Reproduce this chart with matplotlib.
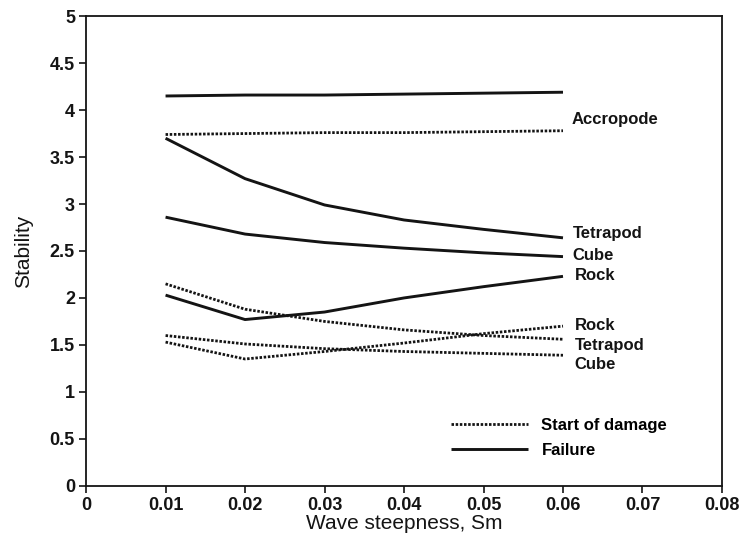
"""Stability vs wave steepness for armour units: start of damage and failure."""
import matplotlib
matplotlib.use("Agg")
import matplotlib.pyplot as plt
from matplotlib.lines import Line2D

plt.rcParams["font.family"] = ["Liberation Sans", "DejaVu Sans"]

steepness = [0.01, 0.02, 0.03, 0.04, 0.05, 0.06]

# failure (solid)
accropode_fail = [4.15, 4.16, 4.16, 4.17, 4.18, 4.19]
tetrapod_fail = [3.70, 3.27, 2.99, 2.83, 2.73, 2.64]
cube_fail = [2.86, 2.68, 2.59, 2.53, 2.48, 2.44]
rock_fail = [2.03, 1.77, 1.85, 2.00, 2.12, 2.23]

# start of damage (dotted)
accropode_start = [3.74, 3.75, 3.76, 3.76, 3.77, 3.78]
tetrapod_start = [2.15, 1.88, 1.75, 1.66, 1.60, 1.56]
cube_start = [1.60, 1.51, 1.46, 1.43, 1.41, 1.39]
rock_start = [1.53, 1.35, 1.43, 1.52, 1.62, 1.70]

end_labels = [
    ("Accropode", 0.0611, 3.90),
    ("Tetrapod", 0.0612, 2.69),
    ("Cube", 0.0612, 2.45),
    ("Rock", 0.0615, 2.24),
    ("Rock", 0.0615, 1.71),
    ("Tetrapod", 0.0615, 1.49),
    ("Cube", 0.0614, 1.29),
]

ink = "#141414"
solid_kw = dict(color=ink, linewidth=2.1, linestyle="-", solid_capstyle="butt")
dot_kw = dict(color=ink, linewidth=2.0, linestyle=(0, (0.9, 0.6)))

fig = plt.figure(figsize=(7.42, 5.38), dpi=100)
ax = fig.add_axes([0.116, 0.097, 0.857, 0.873])

for ys in (accropode_fail, tetrapod_fail, cube_fail, rock_fail):
    ax.plot(steepness, ys, **solid_kw)
for ys in (accropode_start, tetrapod_start, cube_start, rock_start):
    ax.plot(steepness, ys, **dot_kw)

for text, x, y in end_labels:
    ax.text(x, y, text, fontsize=12, fontweight="bold", color=ink,
            va="center", ha="left")

handles = [Line2D([], [], **dot_kw), Line2D([], [], **solid_kw)]
ax.legend(handles, ["Start of damage", "Failure"], loc="lower left",
          bbox_to_anchor=(0.551, 0.028), frameon=False,
          prop={"size": 12, "weight": "bold"},
          handlelength=4.6, handletextpad=0.8, labelspacing=0.6)

ax.set_xlim(0, 0.08)
ax.set_ylim(0, 5)
ax.set_xticks([0, 0.01, 0.02, 0.03, 0.04, 0.05, 0.06, 0.07, 0.08])
ax.set_xticklabels(["0", "0.01", "0.02", "0.03", "0.04", "0.05", "0.06", "0.07", "0.08"])
ax.set_yticks([0, 0.5, 1, 1.5, 2, 2.5, 3, 3.5, 4, 4.5, 5])
ax.set_yticklabels(["0", "0.5", "1", "1.5", "2", "2.5", "3", "3.5", "4", "4.5", "5"])
ax.tick_params(direction="out", length=5, width=1.2, labelsize=13, colors=ink, pad=3)
for lab in ax.get_xticklabels() + ax.get_yticklabels():
    lab.set_fontweight("bold")
for side in ax.spines.values():
    side.set_linewidth(1.3)
    side.set_color(ink)

ax.set_xlabel("Wave steepness, Sm", fontsize=15, color=ink, labelpad=0)
ax.set_ylabel("Stability", fontsize=15, color=ink, labelpad=12)

fig.savefig("out.png", dpi=100)
